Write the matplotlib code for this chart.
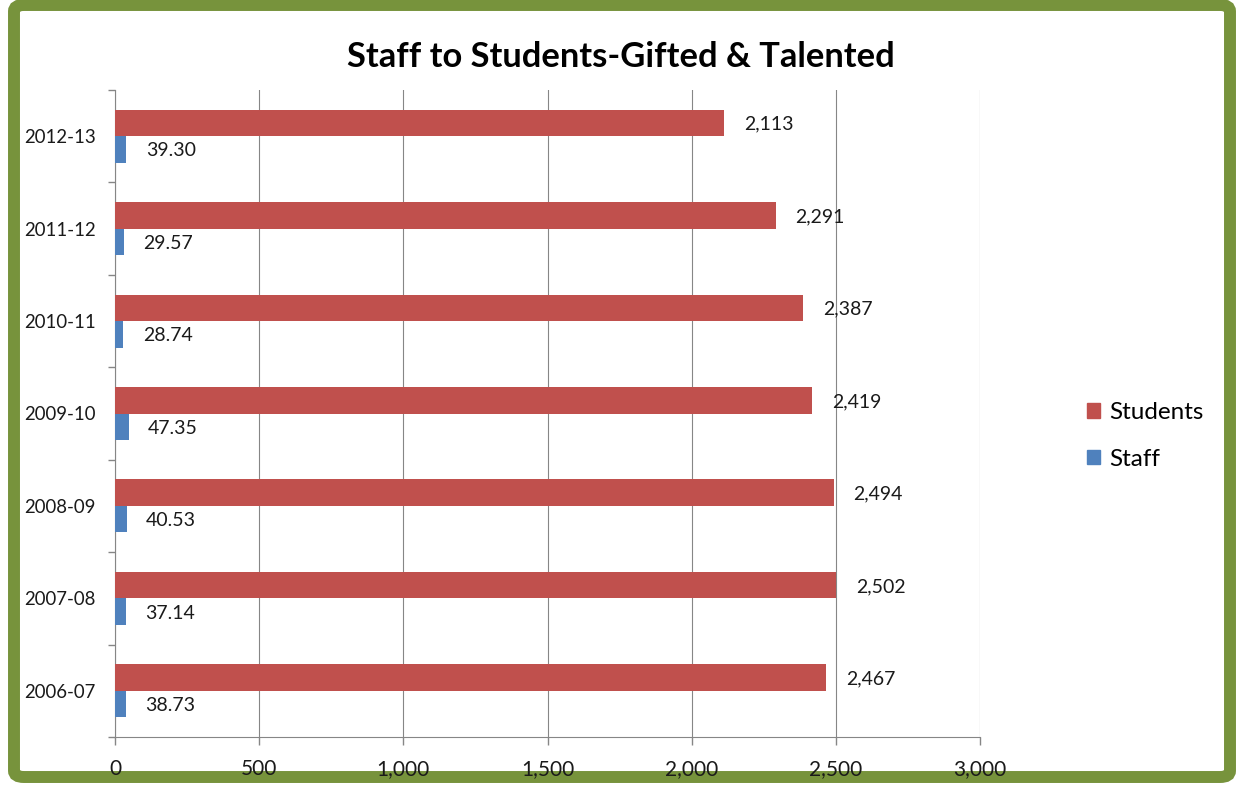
import matplotlib
matplotlib.use("Agg")
import matplotlib.pyplot as plt
from matplotlib.patches import FancyBboxPatch, Patch
from matplotlib.ticker import FuncFormatter, FixedLocator
import numpy as np

plt.rcParams['font.family'] = ['Lato', 'DejaVu Sans']

years = ["2006-07", "2007-08", "2008-09", "2009-10", "2010-11", "2011-12", "2012-13"]
students = [2467, 2502, 2494, 2419, 2387, 2291, 2113]
staff = [38.73, 37.14, 40.53, 47.35, 28.74, 29.57, 39.30]

RED = "#C0504D"
BLUE = "#4F81BD"
GREEN = "#77933C"
GRID = "#868686"
TEXT = "#1a1a1a"

fig = plt.figure(figsize=(12.36, 7.88), dpi=100)
W, H = 1236, 788

# green rounded frame around the chart
frame = FancyBboxPatch((14 / W, 11 / H), (1230 - 14) / W, (783 - 11) / H,
                       boxstyle="round,pad=0,rounding_size=0.008",
                       transform=fig.transFigure, facecolor="white",
                       edgecolor=GREEN, linewidth=8.6, zorder=0)
fig.patches.append(frame)

ax = fig.add_axes([115 / W, 1 - 737 / H, (980 - 115) / W, (737 - 90) / H])
ax.set_facecolor("none")
ax.set_zorder(2)

y = np.arange(len(years))
h = 0.287
ax.barh(y + h / 2, students, height=h, color=RED, label="Students", zorder=3)
ax.barh(y - h / 2, staff, height=h, color=BLUE, label="Staff", zorder=3)

for yi, v in zip(y, students):
    ax.annotate(f"{v:,}", (v, yi + h / 2), xytext=(14, -1), textcoords="offset points",
                va="center", ha="left", fontsize=14, color=TEXT)
for yi, v in zip(y, staff):
    ax.annotate(f"{v:.2f}", (v, yi - h / 2), xytext=(14, -1), textcoords="offset points",
                va="center", ha="left", fontsize=14, color=TEXT)

ax.set_xlim(0, 3000)
ax.set_ylim(-0.5, len(years) - 0.5)
ax.set_xticks(np.arange(0, 3001, 500))
ax.xaxis.set_major_formatter(FuncFormatter(lambda v, p: f"{int(v):,}"))
ax.set_yticks(y)
ax.set_yticklabels(years)
ax.yaxis.set_minor_locator(FixedLocator(np.arange(-0.5, len(years), 1.0)))

ax.tick_params(axis="y", which="major", length=0, pad=14, labelsize=13.4, labelcolor=TEXT)
ax.tick_params(axis="y", which="minor", length=5, width=1, color=GRID)
ax.tick_params(axis="x", which="major", length=5.8, width=1, color=GRID, pad=10,
               labelsize=15, labelcolor=TEXT)

ax.grid(axis="x", color=GRID, linewidth=0.8, zorder=0)
ax.set_axisbelow(True)
for s in ("top", "right"):
    ax.spines[s].set_visible(False)
for s in ("left", "bottom"):
    ax.spines[s].set_color(GRID)
    ax.spines[s].set_linewidth(0.8)

fig.text(621 / W, 1 - 57 / H, "Staff to Students-Gifted & Talented", ha="center", va="center",
         fontsize=24.8, fontweight="bold", color="black")

handles = [Patch(color=RED, label="Students"), Patch(color=BLUE, label="Staff")]
leg = fig.legend(handles=handles, loc="center left", bbox_to_anchor=(1065 / W, 1 - 436 / H),
                 frameon=False, fontsize=17.5, handlelength=0.55, handleheight=0.55,
                 handletextpad=0.35, labelspacing=1.05)
leg.set_zorder(3)

fig.savefig("out.png", dpi=100)
